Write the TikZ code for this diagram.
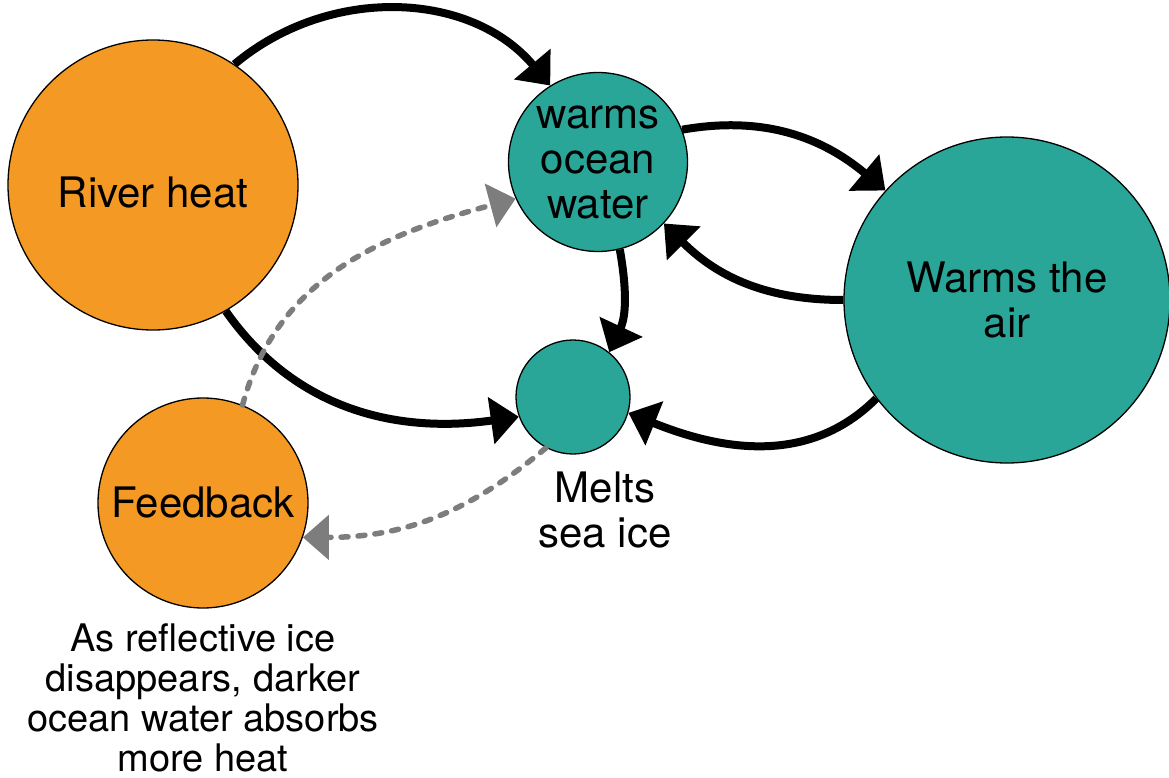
\documentclass[tikz,border=0pt]{standalone}
\usepackage{fontspec}
\setmainfont{TeX Gyre Heros}
\usetikzlibrary{arrows.meta}
\definecolor{heatorange}{RGB}{244,153,35}
\definecolor{seateal}{RGB}{42,166,153}
\definecolor{dashgray}{RGB}{125,125,125}
\tikzset{
  bubble/.style={circle, draw=black, line width=1.3pt, inner sep=0pt, align=center,
    font=\fontsize{42}{45}\selectfont},
  heat/.style={bubble, fill=heatorange},
  sea/.style={bubble, fill=seateal},
  flow/.style={line width=8pt, -{Triangle[length=28pt,width=46pt]}},
  backflow/.style={draw=dashgray, line width=5.5pt, line cap=round, dash pattern=on 7pt off 10pt,
    -{Triangle[length=26pt,width=44pt]}},
  caption/.style={align=center, inner sep=0pt}
}

\begin{document}
\begin{tikzpicture}[x=1pt,y=1pt]
  \useasboundingbox (0,0) rectangle (1169,-778);

  \node[heat, minimum size=290pt,
    label={[yshift=-8pt, font=\fontsize{42}{45}\selectfont]center:River heat}] (river) at (153,-185) {};
  \node[sea, minimum size=179pt] (ocean) at (598,-162) {warms\\ocean\\water};
  \node[sea, minimum size=326pt] (air) at (1007,-300) {Warms the\\air};
  \node[sea, minimum size=114pt] (ice) at (573,-397) {};
  \node[heat, minimum size=210pt] (feedback) at (203,-503) {Feedback};

  \node[caption, font=\fontsize{42}{45}\selectfont] (icetext) at (605,-510) {Melts\\sea ice};
  \node[caption, font=\fontsize{38}{40}\selectfont] (feedbacktext) at (203,-698)
    {As reflective ice\\disappears, darker\\ocean water absorbs\\more heat};

  \draw[flow] (river.56) to[out=40,in=130] (ocean.122);
  \draw[flow] (river.-60) to[out=-55,in=188] (ice.200);
  \draw[flow] (ocean.21) to[out=10,in=140] (air.138);
  \draw[flow] (air.180) to[out=180,in=-45] (ocean.-43);
  \draw[flow] (ocean.-76) to[out=-80,in=65] (ice.51);
  \draw[flow] (air.217) to[out=225,in=-22] (ice.-16);

  \draw[backflow] (feedback.68) to[out=75,in=195] (ocean.204);
  \draw[backflow] (ice.242) to[out=220,in=0] (feedback.-19);
\end{tikzpicture}
\end{document}
